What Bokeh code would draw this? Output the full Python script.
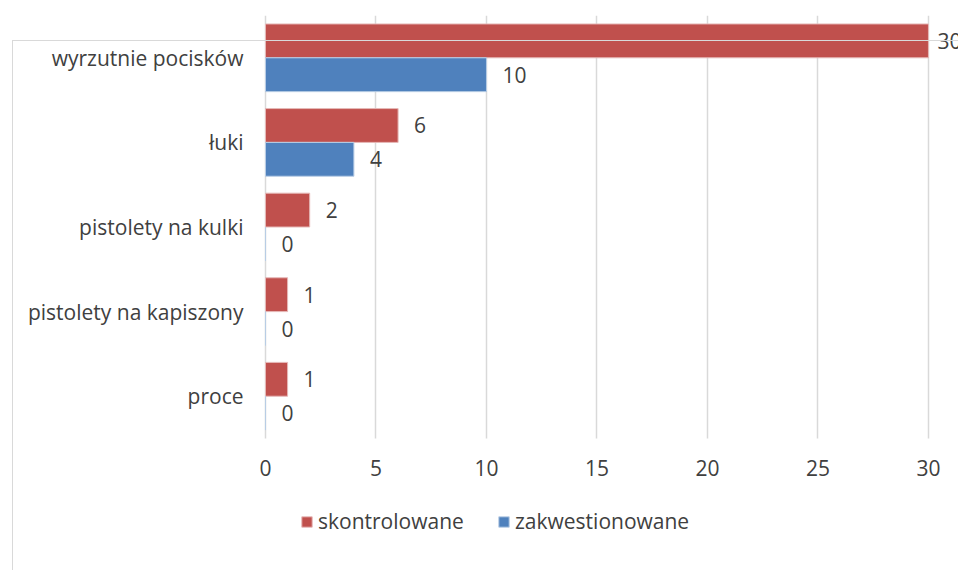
from bokeh.plotting import figure
from bokeh.models import (ColumnDataSource, Range1d, FixedTicker,
                          Legend, LegendItem, InlineStyleSheet)
from bokeh.transform import dodge
from bokeh.core.properties import value
from bokeh.embed import file_html
from bokeh.resources import INLINE

categories = ["wyrzutnie pocisków", "łuki", "pistolety na kulki",
              "pistolety na kapiszony", "proce"]
skontrolowane = [30, 6, 2, 1, 1]
zakwestionowane = [10, 4, 0, 0, 0]
x_ticks = [0, 5, 10, 15, 20, 25, 30]

RED = "#C0504D"
BLUE = "#4F81BD"
TXT = "#404040"
FONT = "Open Sans"
FS = "21px"

n = len(categories)
pos = list(range(n - 1, -1, -1))          # top category first
y_top, y_bot = n - 0.5, -0.5               # band of the categories

p = figure(frame_width=703, frame_height=555, output_backend="svg",
           toolbar_location=None,
           y_range=Range1d(-2.06, y_top), x_range=Range1d(-0.4525, 31.36),
           min_border_left=255, min_border_right=0, min_border_top=15,
           min_border_bottom=0)
p.outline_line_color = None
p.background_fill_color = "white"
p.border_fill_color = "white"

max_v = max(skontrolowane)
src_r = ColumnDataSource(dict(pos=pos, val=skontrolowane,
                              lab=[str(v) for v in skontrolowane],
                              off=[9 if v == max_v else 16 for v in skontrolowane]))
src_b = ColumnDataSource(dict(pos=pos, val=zakwestionowane,
                              lab=[str(v) for v in zakwestionowane],
                              off=[16 for v in zakwestionowane]))

# grid lines limited to the category band
xg = p.xgrid[0]
if "cross_bounds" in xg.properties():
    xg.ticker = FixedTicker(ticks=x_ticks)
    xg.cross_bounds = (y_bot, y_top)
    xg.grid_line_color = "#D9D9D9"
    xg.grid_line_width = 1.5
else:
    xg.grid_line_color = None
    p.segment(x0=x_ticks, x1=x_ticks, y0=[y_bot] * len(x_ticks),
              y1=[y_top] * len(x_ticks), line_color="#D9D9D9", line_width=1.5)
p.ygrid.grid_line_color = None

r_red = p.hbar(y=dodge("pos", 0.2), left=0, right="val",
               height=0.4, source=src_r, fill_color=RED,
               line_color="#E6B9B8", line_width=1)
r_blue = p.hbar(y=dodge("pos", -0.2), left=0, right="val",
                height=0.4, source=src_b, fill_color=BLUE,
                line_color="#B9CDE5", line_width=1)

for src, d in ((src_r, 0.2), (src_b, -0.2)):
    p.text(x="val", y=dodge("pos", d), text="lab", source=src,
           x_offset="off", text_align="left", text_baseline="middle",
           text_font=value(FONT), text_font_size=FS, text_color=TXT)

# axes
p.xaxis.ticker = FixedTicker(ticks=x_ticks)
p.xaxis.fixed_location = y_bot
p.yaxis.ticker = FixedTicker(ticks=pos)
p.yaxis.major_label_overrides = {k: c for k, c in zip(pos, categories)}
for ax in (p.xaxis, p.yaxis):
    ax.axis_line_color = None
    ax.major_tick_line_color = None
    ax.minor_tick_line_color = None
    ax.major_label_text_font = FONT
    ax.major_label_text_font_size = FS
    ax.major_label_text_color = TXT
p.xaxis.major_label_standoff = 15
p.yaxis.major_label_standoff = 6

legend = Legend(items=[LegendItem(label="skontrolowane", renderers=[r_red]),
                       LegendItem(label="zakwestionowane", renderers=[r_blue])],
                orientation="horizontal", location=(45, 35),
                padding=0, margin=0, spacing=5, glyph_width=13, glyph_height=13,
                label_standoff=5, label_width=174,
                label_text_font=FONT, label_text_font_size=FS,
                label_text_color=TXT, border_line_color=None,
                background_fill_alpha=0)
p.add_layout(legend)

# thin grey chart-area border visible in the reference
p.stylesheets = [InlineStyleSheet(css=(
    ":host::after { content: ''; position: absolute; left: 12px; top: 40px; "
    "right: 0px; bottom: 0px; border-top: 1.5px solid #D9D9D9; "
    "border-left: 1.5px solid #D9D9D9; pointer-events: none; z-index: 10; }"))]

open("out.html", "w").write(file_html(p, INLINE))
